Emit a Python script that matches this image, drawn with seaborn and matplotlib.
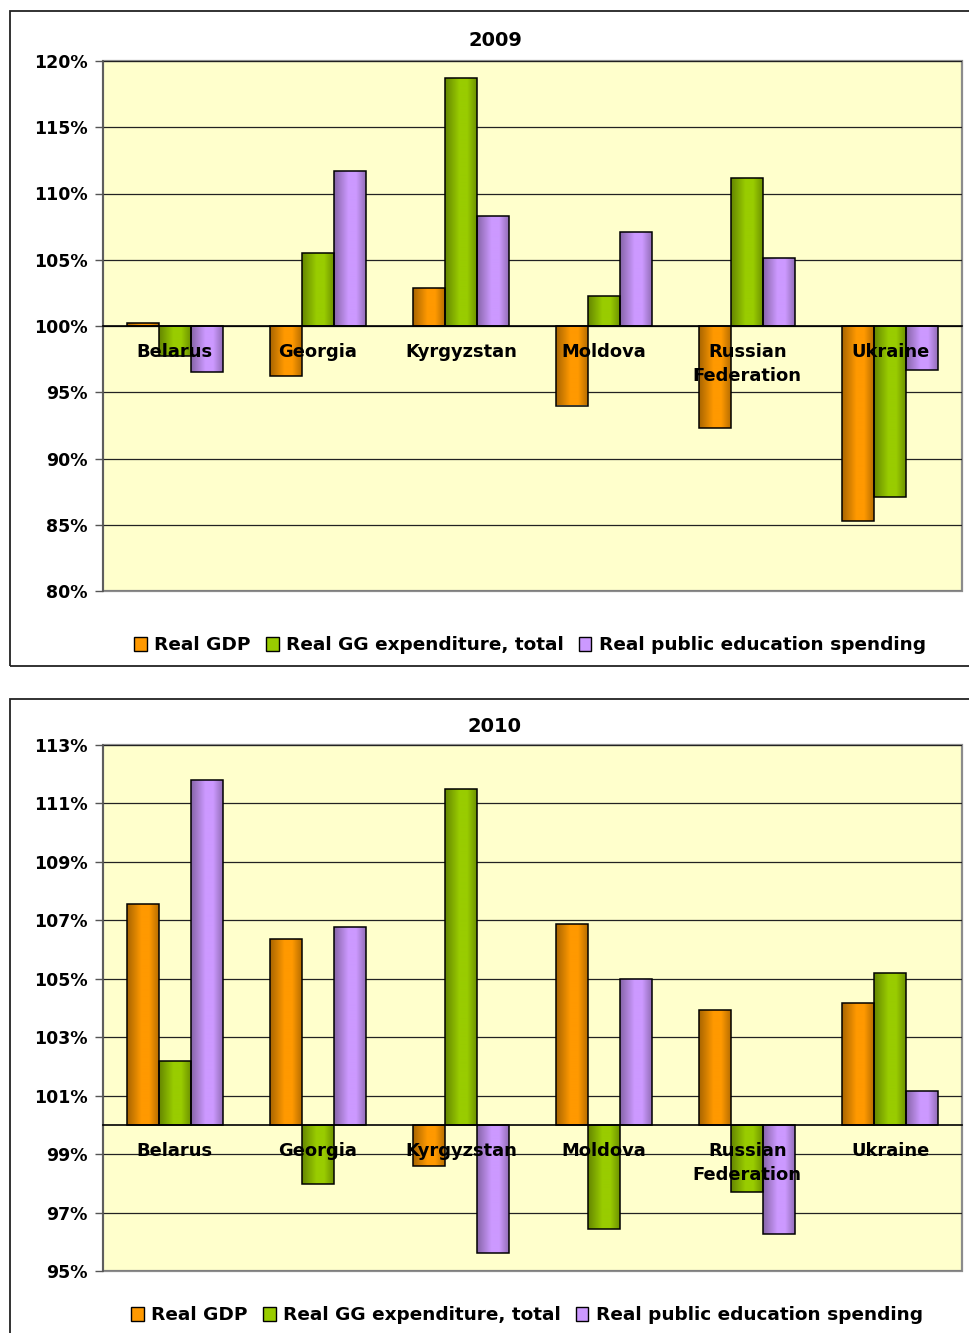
import numpy as np
import pandas as pd
import matplotlib
matplotlib.use("Agg")
import matplotlib.pyplot as plt
import seaborn as sns
from matplotlib.patches import Rectangle, Patch
from matplotlib.colors import to_rgb
from matplotlib.ticker import FuncFormatter, FixedLocator

countries = ["Belarus", "Georgia", "Kyrgyzstan", "Moldova", "Russian\nFederation", "Ukraine"]
series = ["Real GDP", "Real GG expenditure, total", "Real public education spending"]
colors = ["#FF9900", "#99CC00", "#CC99FF"]

# values in % of previous year
gdp_2009 = [100.2, 96.2, 102.9, 94.0, 92.3, 85.3]
gg_2009 = [97.7, 105.5, 118.75, 102.3, 111.2, 87.1]
edu_2009 = [96.5, 111.7, 108.3, 107.1, 105.1, 96.7]

gdp_2010 = [107.57, 106.35, 98.6, 106.86, 103.94, 104.16]
gg_2010 = [102.2, 97.98, 111.5, 96.43, 97.72, 105.2]
edu_2010 = [111.8, 106.77, 95.63, 105.0, 96.27, 101.17]


def make_df(gdp, gg, edu):
    rows = []
    for name, vals in zip(series, [gdp, gg, edu]):
        for c, v in zip(countries, vals):
            rows.append({"country": c, "series": name, "value": v})
    df = pd.DataFrame(rows)
    df["dev"] = df["value"] - 100  # bars hang from the 100% line
    return df


W, H = 970, 1333
sns.set_style("white")
plt.rcParams["font.family"] = ["DejaVu Sans"]
plt.rcParams.update({"text.color": "black", "xtick.color": "black",
                     "ytick.color": "black", "axes.labelcolor": "black"})
fig = plt.figure(figsize=(W / 100, H / 100), dpi=100)

# panel frames
fig.patches.append(Rectangle((10 / W, 1 - 666 / H), 1.0, 655 / H, transform=fig.transFigure,
                             fill=False, edgecolor="#222222", lw=1.3))
fig.patches.append(Rectangle((10 / W, -0.05), 1.0, 0.05 + (H - 699) / H, transform=fig.transFigure,
                             fill=False, edgecolor="#222222", lw=1.3))

panels = [
    dict(title="2009", df=make_df(gdp_2009, gg_2009, edu_2009), top=61, bottom=591,
         ylim=(-20, 20), step=5, title_y=41, leg_y=645, leg_x=530),
    dict(title="2010", df=make_df(gdp_2010, gg_2010, edu_2010), top=745, bottom=1271,
         ylim=(-5, 13), step=2, title_y=727, leg_y=1315, leg_x=527),
]

t = np.linspace(0, 1, 64)
shade = np.interp(t, [0, 0.45, 0.7, 1], [0.66, 1.0, 1.0, 0.72])

for p in panels:
    ax = fig.add_axes([103 / W, 1 - p["bottom"] / H, 859 / W, (p["bottom"] - p["top"]) / H])
    ax.set_facecolor("#FFFFCC")
    sns.barplot(data=p["df"], x="country", y="dev", hue="series", palette=colors,
                order=countries, hue_order=series, width=0.67, edgecolor="black",
                linewidth=1.1, legend=False, ax=ax, zorder=3)

    # Excel-like gradient on each bar
    for cont, col in zip(ax.containers, colors):
        base = np.array(to_rgb(col))
        img = np.clip(base[None, None, :] * shade[None, :, None], 0, 1)
        for bar in cont:
            x, y = bar.get_x(), bar.get_y()
            w, h = bar.get_width(), bar.get_height()
            im = ax.imshow(img, extent=[x, x + w, y, y + h], aspect="auto",
                           interpolation="bilinear", zorder=2.5)
            im.set_clip_path(bar)
            bar.set_facecolor("none")

    lo, hi = p["ylim"]
    ax.set_xlim(-0.5, 5.5)
    ax.set_ylim(lo, hi)
    ax.yaxis.set_major_locator(FixedLocator(np.arange(lo, hi + 0.01, p["step"])))
    ax.yaxis.set_major_formatter(FuncFormatter(lambda v, pos: f"{100 + v:.0f}%"))
    ax.grid(axis="y", color="#222222", lw=0.9)
    ax.set_xlabel("")
    ax.set_ylabel("")

    for s in ["top", "right"]:
        ax.spines[s].set_visible(False)
    ax.spines["left"].set_color("#555555")
    ax.spines["left"].set_linewidth(1.2)
    ax.spines["bottom"].set_position(("data", 0))
    ax.spines["bottom"].set_color("black")
    ax.spines["bottom"].set_linewidth(1.2)
    ax.spines["bottom"].set_zorder(4)
    ax.add_patch(Rectangle((0, 0), 1, 1, transform=ax.transAxes, fill=False,
                           edgecolor="#8C8C8C", lw=1.6, clip_on=False, zorder=0.5))

    ax.xaxis.set_minor_locator(FixedLocator(np.arange(-0.5, 6, 1)))
    ax.tick_params(axis="x", which="major", length=0, pad=12, labelsize=12.9)
    ax.tick_params(axis="x", which="minor", length=5, width=1, color="#777777", direction="out")
    ax.tick_params(axis="y", which="major", length=6, width=1, color="#555555",
                   direction="out", pad=5, labelsize=12.5, left=True)
    for lbl in ax.get_xticklabels():
        lbl.set_fontweight("bold")
        lbl.set_linespacing(1.45)
    for lbl in ax.get_yticklabels():
        lbl.set_fontweight("bold")
    # grid stays behind the bars, category names sit on top of them
    ax.yaxis.set_zorder(1)
    ax.xaxis.set_zorder(5)

    fig.text(495 / W, 1 - p["title_y"] / H, p["title"], ha="center", va="center",
             fontsize=14, fontweight="bold")

    handles = [Patch(facecolor=c, edgecolor="black", lw=1.0) for c in colors]
    fig.legend(handles, series, loc="center", bbox_to_anchor=(p["leg_x"] / W, 1 - p["leg_y"] / H),
               ncol=3, frameon=False, handlelength=0.7, handleheight=0.8, handletextpad=0.4,
               columnspacing=0.8, prop={"weight": "bold", "size": 13.3})

fig.savefig("out.png", dpi=100)
